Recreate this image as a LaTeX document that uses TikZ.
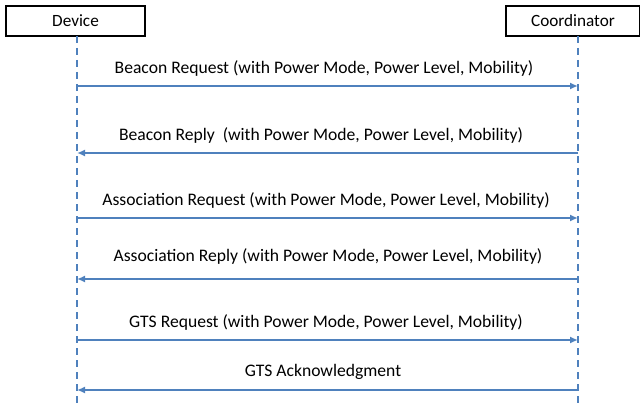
\documentclass[tikz,border=0pt]{standalone}
\usepackage{fontspec}
\setmainfont{Carlito}
\usetikzlibrary{arrows.meta}
\definecolor{lineblue}{RGB}{79,129,189}
\begin{document}
\begin{tikzpicture}[x=1pt,y=-1pt,
  actor/.style={draw=black,line width=1.4pt,fill=white,minimum height=30pt,inner sep=0pt,font=\fontsize{17.2}{19}\selectfont},
  lifeline/.style={draw=lineblue,line width=1.8pt,dash pattern=on 7pt off 5pt},
  msg/.style={draw=lineblue,line width=2.4pt,-{Latex[length=8pt,width=7pt]}},
  lbl/.style={font=\fontsize{17.6}{20}\selectfont,inner sep=0pt}]
\useasboundingbox (0,0) rectangle (640,409);
\node[actor,minimum width=139pt] (dev) at (75.5,21) {Device};
\node[actor,minimum width=134pt] (coord) at (573,21) {Coordinator};
\coordinate (devend) at (77,405);
\coordinate (coordend) at (578,405);
\draw[lifeline] (77,36) -- (devend);
\draw[lifeline] (578,36) -- (coordend);
\foreach \i/\y in {1/86,2/153,3/218,4/279,5/340,6/390}{
  \coordinate (d\i) at (77,\y);
  \coordinate (c\i) at (578,\y);
}
\draw[msg] (d1) -- (c1);
\draw[msg] (c2) -- (d2);
\draw[msg] (d3) -- (c3);
\draw[msg] (c4) -- (d4);
\draw[msg] (d5) -- (c5);
\draw[msg] (c6) -- (d6);
\node[lbl] (t1) at (324,68) {Beacon Request (with Power Mode, Power Level, Mobility)};
\node[lbl] (t2) at (321,135) {Beacon Reply\ \ (with Power Mode, Power Level, Mobility)};
\node[lbl] (t3) at (326,200) {Association Request (with Power Mode, Power Level, Mobility)};
\node[lbl] (t4) at (328,256) {Association Reply (with Power Mode, Power Level, Mobility)};
\node[lbl] (t5) at (326,322) {GTS Request (with Power Mode, Power Level, Mobility)};
\node[lbl] (t6) at (323,372) {GTS Acknowledgment};
\end{tikzpicture}
\end{document}
